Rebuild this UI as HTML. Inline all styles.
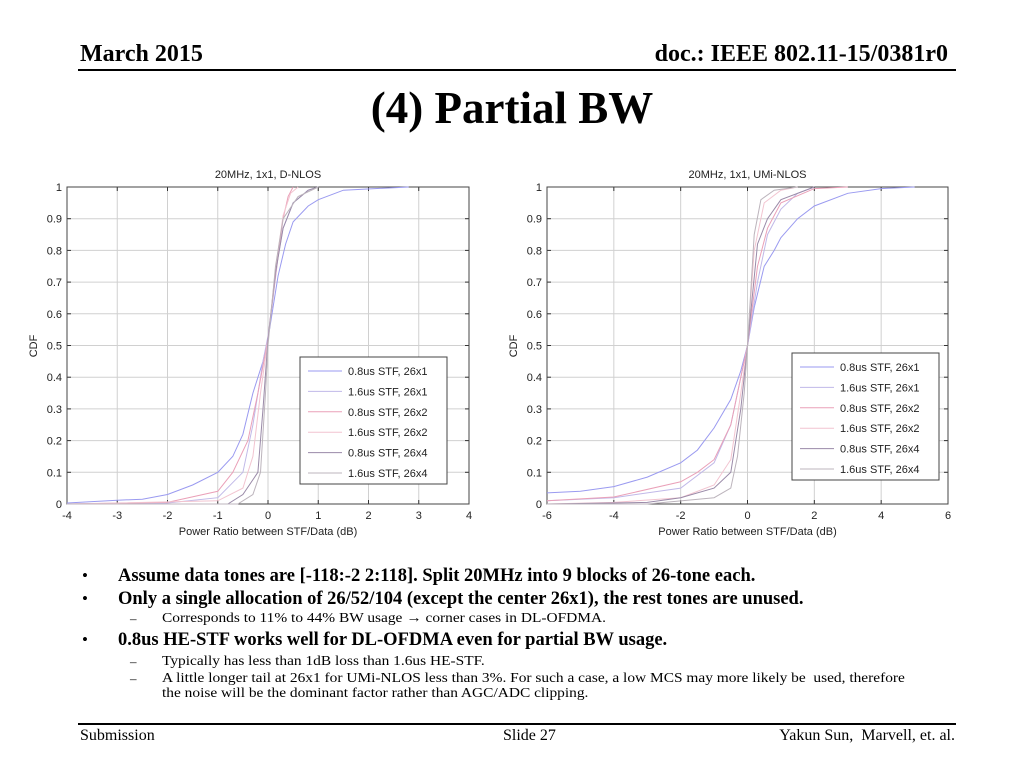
<!DOCTYPE html>
<html><head><meta charset="utf-8"><style>
body{margin:0;width:1024px;height:768px;background:#fff;position:relative;overflow:hidden;font-family:"Liberation Serif",serif;}
.a{position:absolute;white-space:nowrap;}
.sx{transform-origin:left top;transform:scaleX(1.1);}
</style></head><body>
<div class="a" style="left:80px;top:41px;font-size:24px;font-weight:bold">March 2015</div>
<div class="a" style="right:76px;top:41px;font-size:24px;font-weight:bold">doc.: IEEE 802.11-15/0381r0</div>
<div class="a" style="left:78px;top:69px;width:878px;height:2px;background:#000"></div>
<div class="a" style="left:0;width:1024px;text-align:center;top:82px;font-size:45px;font-weight:bold">(4) Partial BW</div>

<svg class="a" style="left:0;top:0" width="1024" height="560" id="svg"></svg>

<div class="a" style="left:0;top:566px;width:1024px">
<div class="a" style="left:82px;top:0;font-size:17px">•</div>
<div class="a" style="left:118px;top:0;font-size:18.5px;font-weight:bold">Assume data tones are [-118:-2 2:118]. Split 20MHz into 9 blocks of 26-tone each.</div>
<div class="a" style="left:82px;top:23px;font-size:17px">•</div>
<div class="a" style="left:118px;top:23px;font-size:18.5px;font-weight:bold">Only a single allocation of 26/52/104 (except the center 26x1), the rest tones are unused.</div>
<div class="a" style="left:130px;top:45px;font-size:13px">–</div>
<div class="a sx" style="left:162px;top:45px;font-size:14px">Corresponds to 11% to 44% BW usage → corner cases in DL-OFDMA.</div>
<div class="a" style="left:82px;top:64px;font-size:17px">•</div>
<div class="a" style="left:118px;top:64px;font-size:18.5px;font-weight:bold">0.8us HE-STF works well for DL-OFDMA even for partial BW usage.</div>
<div class="a" style="left:130px;top:88px;font-size:13px">–</div>
<div class="a sx" style="left:162px;top:88px;font-size:14px">Typically has less than 1dB loss than 1.6us HE-STF.</div>
<div class="a" style="left:130px;top:105px;font-size:13px">–</div>
<div class="a sx" style="left:162px;top:105px;font-size:14px;line-height:15px">A little longer tail at 26x1 for UMi-NLOS less than 3%. For such a case, a low MCS may more likely be&nbsp; used, therefore<br>the noise will be the dominant factor rather than AGC/ADC clipping.</div>
</div>

<div class="a" style="left:78px;top:723px;width:878px;height:2px;background:#000"></div>
<div class="a" style="left:80px;top:727px;font-size:16px">Submission</div>
<div class="a" style="left:503px;top:727px;font-size:16px">Slide 27</div>
<div class="a" style="right:69px;top:727px;font-size:16px">Yakun Sun,&nbsp; Marvell, et. al.</div>

<script>
const seriesNames=["0.8us STF, 26x1","1.6us STF, 26x1","0.8us STF, 26x2","1.6us STF, 26x2","0.8us STF, 26x4","1.6us STF, 26x4"];
const seriesColors=["#9a9af0","#c0b8e8","#eaa0b8","#f2c4d0","#9a8aa8","#bcb4bc"];
const yTicks=[0,0.1,0.2,0.3,0.4,0.5,0.6,0.7,0.8,0.9,1];
const xTicksL=[-4,-3,-2,-1,0,1,2,3,4];
const xTicksR=[-6,-4,-2,0,2,4,6];
const dnlosX=[
[-4,-3,-2.5,-2,-1.5,-1,-0.7,-0.5,-0.3,-0.1,0,0.1,0.2,0.35,0.5,0.8,1,1.5,2.8],
[-4,-2,-1,-0.5,-0.3,-0.1,0,0.1,0.2,0.3,0.5,0.8,1],
[-4,-2,-1,-0.7,-0.4,-0.2,0,0.15,0.3,0.4,0.5],
[-4,-1,-0.5,-0.3,-0.15,0,0.15,0.3,0.45,0.6],
[-4,-0.8,-0.5,-0.2,-0.1,0,0.15,0.3,0.5,0.8,1],
[-4,-0.6,-0.3,-0.15,-0.05,0,0.15,0.3,0.6,1]];
const dnlosY=[
[0.003,0.012,0.015,0.03,0.06,0.1,0.15,0.22,0.35,0.45,0.52,0.62,0.72,0.82,0.89,0.94,0.96,0.99,1],
[0,0.003,0.02,0.1,0.25,0.45,0.53,0.65,0.78,0.87,0.95,0.99,1],
[0,0.005,0.04,0.1,0.2,0.35,0.52,0.72,0.9,0.97,1],
[0,0.01,0.05,0.15,0.35,0.52,0.74,0.91,0.98,1],
[0,0,0.03,0.1,0.3,0.52,0.73,0.87,0.95,0.99,1],
[0,0,0.03,0.1,0.35,0.5,0.75,0.9,0.97,1]];
const umiX=[
[-6,-5,-4,-3,-2,-1.5,-1,-0.5,-0.2,0,0.2,0.5,0.8,1,1.5,2,3,4,5],
[-6,-4,-2,-1,-0.5,-0.2,0,0.3,0.6,1,1.5,2],
[-6,-4,-2,-1.5,-1,-0.5,0,0.3,0.6,1,2,3],
[-6,-4,-2,-1,-0.5,-0.2,0,0.2,0.5,1,1.5],
[-6,-3,-2,-1,-0.5,-0.2,0,0.3,0.6,1,2],
[-6,-3,-1,-0.5,-0.3,-0.1,0,0.2,0.4,0.8,1.5]];
const umiY=[
[0.035,0.04,0.055,0.085,0.13,0.17,0.24,0.33,0.42,0.5,0.62,0.75,0.8,0.84,0.9,0.94,0.98,0.995,1],
[0.01,0.02,0.05,0.13,0.25,0.4,0.5,0.7,0.85,0.93,0.98,1],
[0.01,0.022,0.07,0.1,0.14,0.25,0.5,0.75,0.87,0.95,0.995,1],
[0,0.005,0.02,0.06,0.14,0.35,0.5,0.8,0.95,0.99,1],
[0,0.005,0.02,0.05,0.1,0.3,0.5,0.82,0.9,0.96,1],
[0,0,0.02,0.05,0.15,0.35,0.5,0.85,0.96,0.99,1]];

const NS="http://www.w3.org/2000/svg";
const svg=document.getElementById('svg');
function mk(tag,attrs,parent){const e=document.createElementNS(NS,tag);for(const k in attrs)e.setAttribute(k,attrs[k]);(parent||svg).appendChild(e);return e;}
function txt(s,x,y,anchor,size,parent){const t=mk('text',{x:x,y:y,'text-anchor':anchor,'font-size':size||11,'font-family':'Liberation Sans, sans-serif',fill:'#222'},parent);t.textContent=s;return t;}

function chart(cfg){
  const g=mk('g',{});
  
  
  const L=cfg.left,R=cfg.right,T=187,B=504;
  const xs=v=>L+(v-cfg.xmin)/(cfg.xmax-cfg.xmin)*(R-L);
  const ys=v=>B-v*(B-T);
  cfg.xticks.forEach(v=>{
    const x=xs(v);
    const l=mk('line',{x1:x,x2:x,y1:T,y2:B,stroke:'#d0d0d0','stroke-width':1},g);
    
    
    mk('line',{x1:x,x2:x,y1:B,y2:B-4,stroke:'#333'},g);
    mk('line',{x1:x,x2:x,y1:T,y2:T+4,stroke:'#333'},g);
    const t=txt(String(v),x,519,'middle',11,g);
    
    
  });
  yTicks.forEach(v=>{
    const y=ys(v);
    const l=mk('line',{x1:L,x2:R,y1:y,y2:y,stroke:'#d0d0d0','stroke-width':1},g);
    
    
    mk('line',{x1:L,x2:L+4,y1:y,y2:y,stroke:'#333'},g);
    mk('line',{x1:R,x2:R-4,y1:y,y2:y,stroke:'#333'},g);
    const t=txt(String(v),L-5,y+4,'end',11,g);
    
    
  });
  const box=mk('rect',{x:L,y:T,width:R-L,height:B-T,fill:'none',stroke:'#444'},g);
  
  
  cfg.X.forEach((xa,i)=>{
    const pts=xa.map((x,j)=>xs(x).toFixed(1)+','+ys(cfg.Y[i][j]).toFixed(1)).join(' ');
    const p=mk('polyline',{points:pts,fill:'none',stroke:seriesColors[i],'stroke-width':1},g);
    
    
  });
  const tt=txt(cfg.title,(L+R)/2,178,'middle',11,g);
  
  
  const xt=txt('Power Ratio between STF/Data (dB)',(L+R)/2,535,'middle',11,g);
  
  
  const yt=txt('CDF',0,0,'middle',11,g);
  yt.setAttribute('transform','translate('+(L-30)+',346) rotate(-90)');
  
  
  const lg=mk('g',{},g);
  
  
  mk('rect',{x:cfg.lx,y:cfg.ly,width:147,height:127,fill:'#fff',stroke:'#444'},lg);
  seriesNames.forEach((n,i)=>{
    const y=cfg.ly+14+i*20.4;
    mk('line',{x1:cfg.lx+8,x2:cfg.lx+42,y1:y,y2:y,stroke:seriesColors[i]},lg);
    const t=txt(n,cfg.lx+48,y+4,'start',11,lg);
    
    
  });
}
chart({name:'chart-d-nlos',title:'20MHz, 1x1, D-NLOS',left:67,right:469,xmin:-4,xmax:4,xticks:xTicksL,X:dnlosX,Y:dnlosY,lx:300,ly:357});
chart({name:'chart-umi-nlos',title:'20MHz, 1x1, UMi-NLOS',left:547,right:948,xmin:-6,xmax:6,xticks:xTicksR,X:umiX,Y:umiY,lx:792,ly:353});
</script>
</body></html>
